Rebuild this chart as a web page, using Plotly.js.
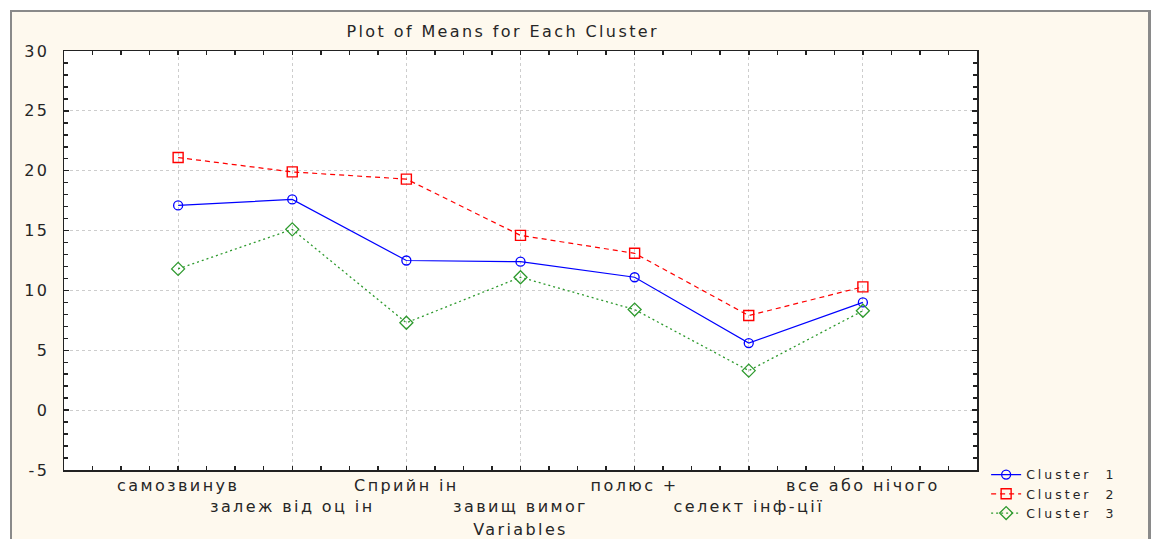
<!DOCTYPE html>
<html>
<head>
<meta charset="utf-8">
<script src="https://cdn.plot.ly/plotly-3.0.1.min.js"></script>
<style>
  html, body { margin: 0; padding: 0; background: #ffffff; }
  #frame {
    position: absolute; left: 10px; top: 10px;
    width: 1141px; height: 529px; box-sizing: border-box;
    border-left: 2px solid #8a8a8a; border-top: 2px solid #8a8a8a; border-right: 3px solid #8a8a8a;
    background: #fef9ee;
  }
  #chart { width: 1136px; height: 527px; }
  svg text { letter-spacing: 2.4px; }
  svg text.legendtext { letter-spacing: 3px; }
</style>
</head>
<body>
<div id="frame"><div id="chart"></div></div>
<script>
const categories = ["самозвинув", "залеж від оц ін", "Сприйн ін", "завищ вимог", "полюс +", "селект інф-ції", "все або нічого"];
const cluster1 = [17.1, 17.6, 12.5, 12.4, 11.1, 5.6, 9.0];
const cluster2 = [21.1, 19.9, 19.3, 14.6, 13.1, 7.9, 10.3];
const cluster3 = [11.8, 15.1, 7.3, 11.1, 8.4, 3.3, 8.3];
const seriesNames = ["Cluster  1", "Cluster  2", "Cluster  3"];
const yTickVals = [-5, 0, 5, 10, 15, 20, 25, 30];
const yTickText = ["-5", "0", "5", "10", "15", "20", "25", "30"];

const xpos = categories.map((c, i) => i + 1);
const ticktext = categories.map((c, i) => (i % 2 ? " <br>" + c : c));

const FONT = "DejaVu Sans, Arial, sans-serif";
const TXT = "#262626";
const FS = 16;

const traces = [
  { x: xpos, y: cluster1, name: seriesNames[0], mode: "lines+markers",
    line: { color: "#0000ff", width: 1.2, dash: "solid" },
    marker: { symbol: "circle-open", size: 9, color: "#0000ff", line: { width: 1.3 } } },
  { x: xpos, y: cluster2, name: seriesNames[1], mode: "lines+markers",
    line: { color: "#ff0000", width: 1.2, dash: "5px,4px" },
    marker: { symbol: "square-open", size: 10, color: "#ff0000", line: { width: 1.4 } } },
  { x: xpos, y: cluster3, name: seriesNames[2], mode: "lines+markers",
    line: { color: "#2e9a2e", width: 1.3, dash: "2px,3px" },
    marker: { symbol: "diamond-open", size: 10, color: "#2e9a2e", line: { width: 1.3 } } }
];

const layout = {
  width: 1136, height: 527,
  paper_bgcolor: "#fef9ee", plot_bgcolor: "#ffffff",
  margin: { l: 52, r: 171, t: 39, b: 69, autoexpand: false },
  font: { family: FONT, size: FS, color: TXT },
  title: { text: "Plot of Means for Each Cluster", font: { family: FONT, size: FS, color: TXT },
           xref: "container", yref: "container", x: 0.432, y: 0.964, xanchor: "center", yanchor: "middle" },
  xaxis: {
    range: [0, 8], tickmode: "array", tickvals: xpos, ticktext: ticktext, tickangle: 0,
    ticks: "inside", ticklen: 4, tickwidth: 1.5, tickcolor: "#222",
    showline: true, linecolor: "#222", linewidth: 1.5, mirror: "ticks",
    showgrid: true, gridcolor: "#cdcdcd", griddash: "dot", gridwidth: 1,
    zeroline: false, tickfont: { family: FONT, size: FS, color: TXT },
    minor: { tick0: 0, dtick: 0.25, ticks: "inside", ticklen: 4, tickcolor: "#222", showgrid: false },
    title: { text: "Variables", font: { family: FONT, size: FS, color: TXT }, standoff: 9 }
  },
  yaxis: {
    range: [-5, 30], tickmode: "array", tickvals: yTickVals, ticktext: yTickText,
    ticks: "inside", ticklen: 5, tickwidth: 1.5, tickcolor: "#222",
    showline: true, linecolor: "#222", linewidth: 1.5, mirror: "ticks",
    showgrid: true, gridcolor: "#cdcdcd", griddash: "dot", gridwidth: 1,
    zeroline: false, tickfont: { family: FONT, size: FS, color: TXT }, ticklabelstandoff: 10,
    minor: { tick0: 0, dtick: 1, ticks: "inside", ticklen: 4, tickcolor: "#222", showgrid: false }
  },
  showlegend: true,
  legend: { x: 1.01, xanchor: "left", y: 0.024, yanchor: "top", bgcolor: "rgba(0,0,0,0)",
            font: { family: FONT, size: 12.5, color: TXT }, itemwidth: 30, tracegroupgap: 0 }
};

Plotly.newPlot("chart", traces, layout, { displayModeBar: false, staticPlot: true });
</script>
</body>
</html>
